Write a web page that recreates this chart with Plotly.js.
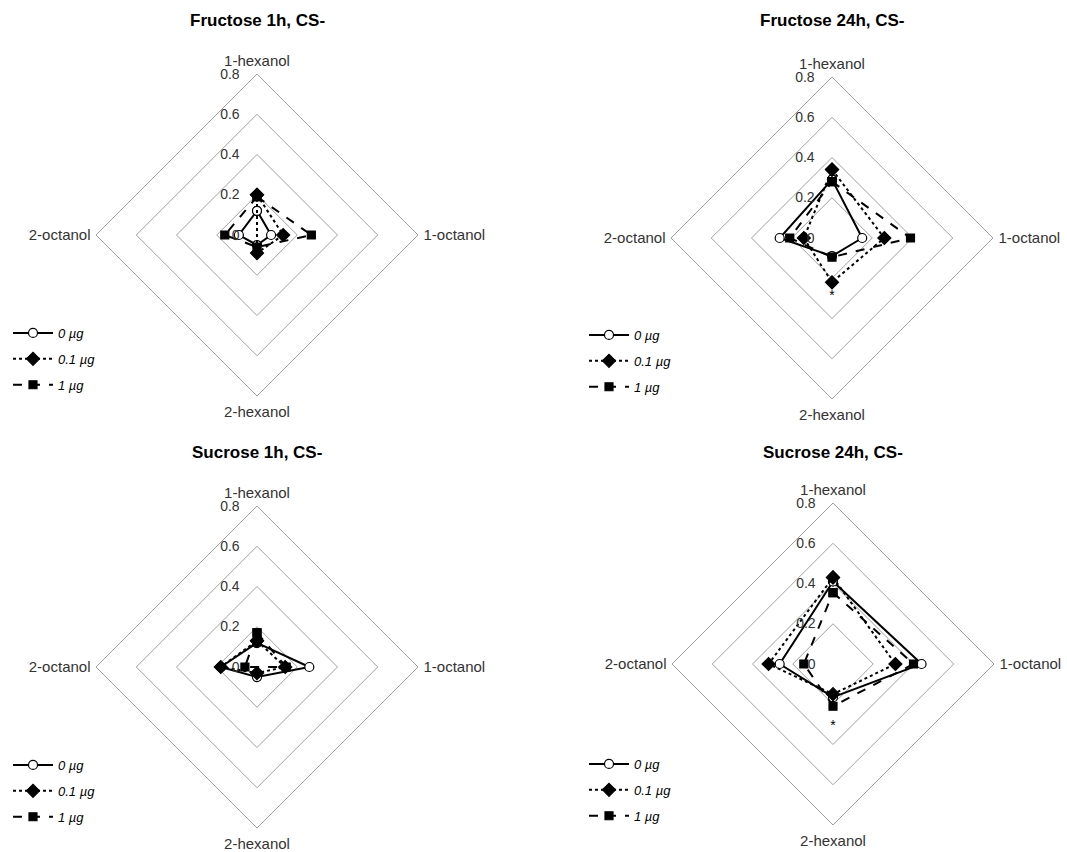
<!DOCTYPE html>
<html>
<head>
<meta charset="utf-8">
<script src="https://cdn.plot.ly/plotly-3.0.1.min.js"></script>
<style>
html,body{margin:0;padding:0;background:#fff;}
#chart{width:1067px;height:852px;}
</style>
</head>
<body>
<div id="chart"></div>
<script>
// ---- data ----
const categories = ['1-hexanol', '1-octanol', '2-hexanol', '2-octanol'];
const seriesNames = ['0 µg', '0.1 µg', '1 µg'];
const panelTitles = ['Fructose 1h, CS-', 'Fructose 24h, CS-', 'Sucrose 1h, CS-', 'Sucrose 24h, CS-'];

const fru1h_0   = [0.12, 0.07, 0.05, 0.09];
const fru1h_01  = [0.20, 0.13, 0.09, 0.00];
const fru1h_1   = [0.19, 0.27, 0.06, 0.16];

const fru24h_0  = [0.29, 0.15, 0.09, 0.26];
const fru24h_01 = [0.34, 0.26, 0.22, 0.14];
const fru24h_1  = [0.28, 0.39, 0.095, 0.21];

const suc1h_0   = [0.12, 0.26, 0.05, 0.18];
const suc1h_01  = [0.13, 0.14, 0.03, 0.18];
const suc1h_1   = [0.17, 0.145, 0.00, 0.06];

const suc24h_0  = [0.41, 0.44, 0.165, 0.265];
const suc24h_01 = [0.43, 0.31, 0.15, 0.32];
const suc24h_1  = [0.355, 0.40, 0.21, 0.145];

// significance markers
const sigPanels = [1, 3];
const sigCategory = ['2-hexanol', '2-hexanol'];
const sigR = [0.29, 0.31];

const panelData = [
  [fru1h_0, fru1h_01, fru1h_1],
  [fru24h_0, fru24h_01, fru24h_1],
  [suc1h_0, suc1h_01, suc1h_1],
  [suc24h_0, suc24h_01, suc24h_1]
];

// ---- styling ----
const W = 1067, H = 852;
const FONT = 'Liberation Sans, Arial, sans-serif';
const GRID = '#a0a0a0';
const TXT = '#333333';
const styles = [
  {dash: 'solid', symbol: 'circle', color: '#fff', size: 9},
  {dash: 'dot', symbol: 'diamond', color: '#000', size: 10},
  {dash: 'dash', symbol: 'square', color: '#000', size: 8}
];
const centres = [[257, 235], [832, 238], [257, 667], [833, 664]];
const R = 161;
const legendPos = [[8, 318], [584, 320], [8, 750], [584, 749]];

const traces = [];
const layout = {
  width: W, height: H,
  margin: {l: 0, r: 0, t: 0, b: 0},
  paper_bgcolor: '#fff',
  font: {family: FONT, color: TXT, size: 13},
  annotations: []
};

panelData.forEach((series, p) => {
  const pid = p === 0 ? 'polar' : 'polar' + (p + 1);
  const lid = p === 0 ? 'legend' : 'legend' + (p + 1);
  const [cx, cy] = centres[p];
  layout[pid] = {
    domain: {
      x: [(cx - R) / W, (cx + R) / W],
      y: [(H - cy - R) / H, (H - cy + R) / H]
    },
    gridshape: 'linear',
    bgcolor: 'rgba(0,0,0,0)',
    angularaxis: {
      type: 'category',
      categoryarray: categories,
      rotation: 90,
      direction: 'clockwise',
      showgrid: false,
      showline: true,
      linecolor: GRID,
      linewidth: 1,
      ticks: 'outside',
      ticklen: 2,
      tickcolor: 'rgba(0,0,0,0)',
      tickfont: {family: FONT, size: 15, color: TXT}
    },
    radialaxis: {
      range: [0, 0.8],
      dtick: 0.2,
      angle: 90,
      side: 'counterclockwise',
      tickangle: 90,
      showline: false,
      ticks: 'outside',
      ticklen: 12,
      tickcolor: 'rgba(0,0,0,0)',
      gridcolor: GRID,
      gridwidth: 1,
      tickfont: {family: FONT, size: 14, color: TXT}
    }
  };
  layout[lid] = {
    x: legendPos[p][0] / W,
    y: 1 - legendPos[p][1] / H,
    xanchor: 'left', yanchor: 'top',
    bgcolor: 'rgba(0,0,0,0)',
    traceorder: 'grouped',
    tracegroupgap: 6,
    itemwidth: 40,
    font: {family: FONT, size: 13, color: '#000', style: 'italic'}
  };
  series.forEach((vals, s) => {
    const st = styles[s];
    traces.push({
      type: 'scatterpolar',
      subplot: pid,
      legend: lid,
      legendgroup: 'g' + p + '_' + s,
      name: seriesNames[s],
      r: vals.concat([vals[0]]),
      theta: categories.concat([categories[0]]),
      mode: 'lines+markers',
      line: {color: '#000', width: 2, dash: st.dash},
      marker: {symbol: st.symbol, size: st.size, color: st.color, line: {color: '#000', width: 1.2}},
      cliponaxis: false
    });
  });
  layout.annotations.push({
    text: '<b>' + panelTitles[p] + '</b>',
    xref: 'paper', yref: 'paper',
    x: cx / W, y: 1 - (p < 2 ? 21 : 452) / H,
    xanchor: 'center', yanchor: 'middle',
    showarrow: false,
    font: {family: FONT, size: 17, color: '#000'}
  });
});

sigPanels.forEach((p, i) => {
  traces.push({
    type: 'scatterpolar',
    subplot: p === 0 ? 'polar' : 'polar' + (p + 1),
    r: [sigR[i]],
    theta: [sigCategory[i]],
    mode: 'text',
    text: ['*'],
    textfont: {family: FONT, size: 14, color: '#000'},
    showlegend: false,
    hoverinfo: 'skip'
  });
});

Plotly.newPlot('chart', traces, layout, {staticPlot: true});
</script>
</body>
</html>
